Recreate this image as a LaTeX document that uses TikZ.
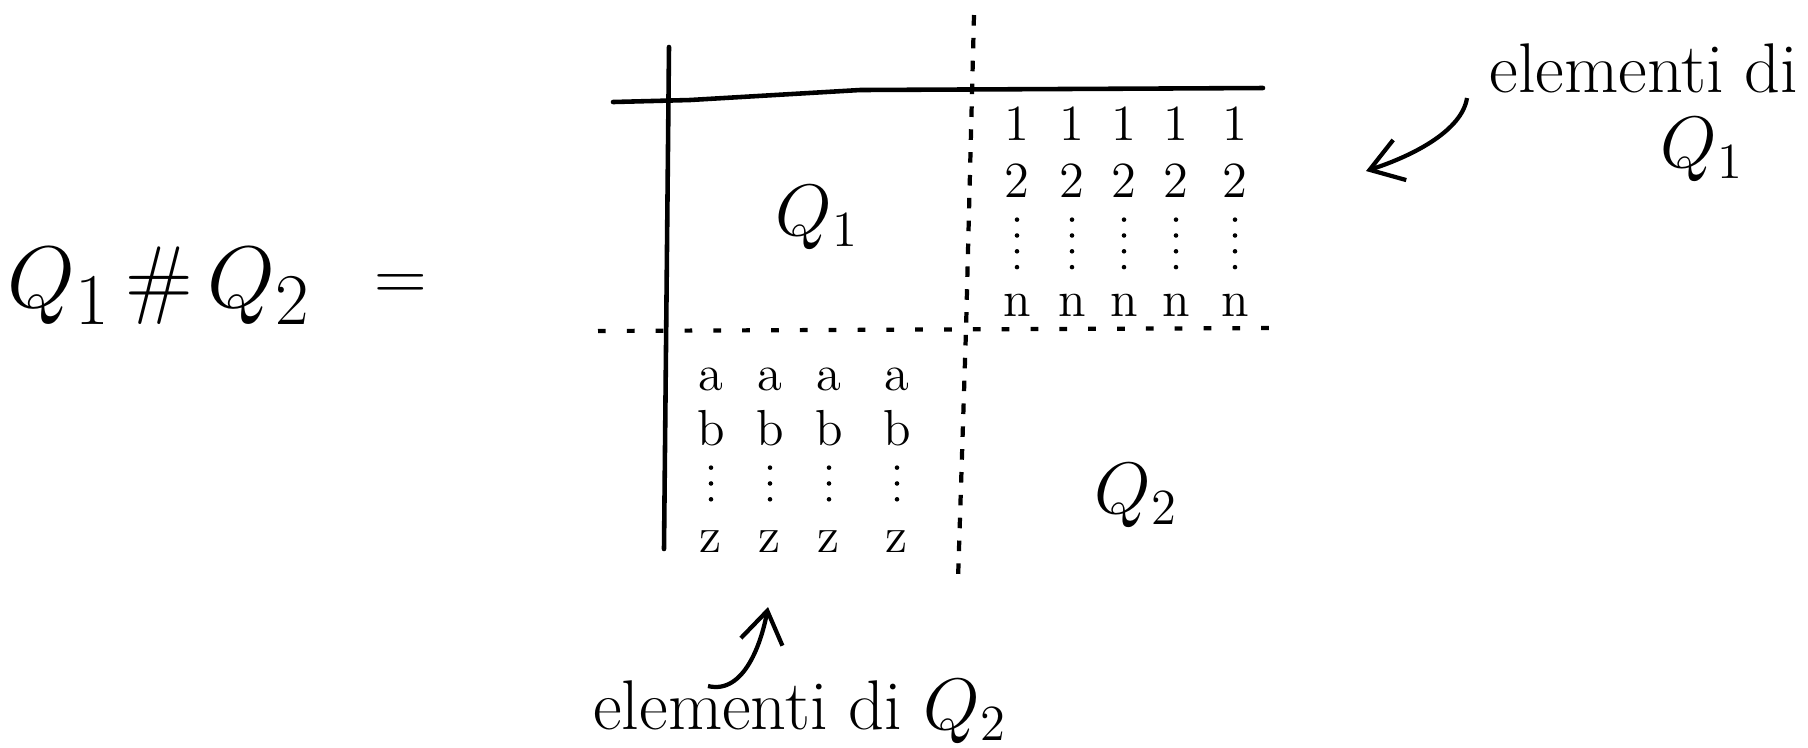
\documentclass[tikz,border=0pt]{standalone}
\usepackage{tikz}
\usetikzlibrary{arrows.meta}

\begin{document}
\begin{tikzpicture}[
  x=0.01cm, y=-0.01cm,
  axis/.style={line width=1.3pt, line cap=round},
  splitv/.style={line width=1.2pt, dash pattern=on 3pt off 3.5pt},
  splith/.style={line width=1.2pt, dash pattern=on 2.2pt off 6pt},
  entry/.style={font=\Large, inner sep=1pt},
  quad/.style={font=\huge},
  note/.style={font=\fontsize{20}{25}\selectfont},
  vdotsline/.style={line width=1.3pt, line cap=round, dash pattern=on 0pt off 4.5pt,
    shorten <=5pt, shorten >=5pt},
  arrow/.style={-{Straight Barb[length=9pt, width=12pt]}, line width=1.2pt}
]
\useasboundingbox (0,0) rectangle (1808,747);

% ---- Formula ----
\node[quad, font=\Huge] (sum) at (159,286) {$Q_1\,\#\,Q_2$};
\node[quad] (eq) at (401,288) {$=$};

% ---- Axes ----
\draw[axis] (669,47) -- (664,549);
\draw[axis] (613,102) -- (690,100) -- (860,90) -- (1263,88);
\draw[splitv] (974,15) -- (966,330) -- (958,580);
\draw[splith] (598,331) -- (1272,328);

% ---- Blocks ----
\node[quad] (q1) at (817,218) {$Q_1$};
\node[quad] (q2) at (1136,496) {$Q_2$};

% Elementi di Q1
\foreach \x [count=\i] in {1017,1072,1124,1176,1235} {
  \node[entry] (one\i) at (\x,124) {1};
  \node[entry] (two\i) at (\x,181) {2};
  \node[entry] (enn\i) at (\x,305) {n};
  \draw[vdotsline] (two\i) -- (enn\i);
}

% Elementi di Q2
\foreach \x [count=\i] in {711,770,829,897} {
  \node[entry] (a\i) at (\x,379) {a};
  \node[entry] (b\i) at (\x,428) {b};
  \node[entry] (z\i) at (\x,542) {z};
  \draw[vdotsline] (b\i) -- (z\i);
}

% ---- Notes ----
\node[note] (lab1) at (1644,68) {elementi di};
\node[note] (lab1q) at (1702,150) {$Q_1$};
\coordinate (from1) at (1467,98);
\coordinate (tip1) at (1366,171);
\draw[arrow] (from1) .. controls (1462,130) and (1415,155) .. (tip1);

\node[note] (lab2) at (800,712) {elementi di $Q_2$};
\coordinate (from2) at (708,686);
\coordinate (tip2) at (768,607);
\draw[arrow] (from2) .. controls (745,695) and (762,640) .. (tip2);

\end{tikzpicture}
\end{document}
